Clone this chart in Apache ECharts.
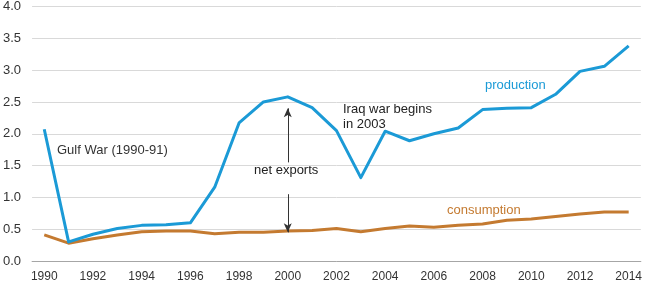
<!DOCTYPE html>
<html>
<head>
<meta charset="utf-8">
<script src="https://cdn.jsdelivr.net/npm/echarts@6/dist/echarts.min.js"></script>
<style>
html, body { margin: 0; padding: 0; background: #fff; }
#chart { width: 645px; height: 297px; }
</style>
</head>
<body>
<div id="chart"></div>
<script>
var years = [];
for (var y = 1990; y <= 2014; y++) years.push(String(y));

var production = [2.07, 0.30, 0.42, 0.51, 0.56, 0.57, 0.60, 1.16, 2.17, 2.50, 2.58, 2.41, 2.05, 1.31,
                  2.04, 1.89, 2.00, 2.09, 2.38, 2.40, 2.41, 2.62, 2.98, 3.06, 3.38];
var consumption = [0.41, 0.28, 0.35, 0.41, 0.46, 0.47, 0.47, 0.43, 0.45, 0.45, 0.47, 0.48, 0.51, 0.46,
                   0.51, 0.55, 0.53, 0.56, 0.58, 0.64, 0.66, 0.70, 0.74, 0.77, 0.77];

var blue = '#1b9ad6';
var orange = '#c47a30';
var font = 'Liberation Sans, Arial, sans-serif';

var chart = echarts.init(document.getElementById('chart'));

option = {
    animation: false,
    grid: { left: 31, right: 4, top: 5, bottom: 36 },
    xAxis: {
        type: 'category',
        data: years,
        boundaryGap: true,
        axisLine: { lineStyle: { color: '#a6a6a6' } },
        axisTick: { interval: 0, length: 5, lineStyle: { color: '#a6a6a6' } },
        axisLabel: { interval: 1, margin: 10, color: '#333', fontSize: 12, fontFamily: font }
    },
    yAxis: {
        type: 'value',
        min: 0,
        max: 4,
        interval: 0.5,
        axisLine: { show: false },
        axisTick: { show: false },
        axisLabel: {
            margin: 11, color: '#333', fontSize: 13, fontFamily: font,
            formatter: function (v) { return v.toFixed(1); }
        },
        splitLine: { lineStyle: { color: '#d9d9d9', width: 1 } }
    },
    series: [
        {
            name: 'production',
            type: 'line',
            data: production,
            symbol: 'none',
            lineStyle: { color: blue, width: 3, join: 'round' },
            z: 3
        },
        {
            name: 'consumption',
            type: 'line',
            data: consumption,
            symbol: 'none',
            lineStyle: { color: orange, width: 3, join: 'round' },
            z: 2,
            markLine: {
                silent: true,
                symbol: ['none', 'arrow'],
                symbolSize: [6, 9],
                label: { show: false },
                lineStyle: { color: '#333', width: 1, type: 'solid' },
                data: [
                    [{ coord: ['2000', 1.55] }, { coord: ['2000', 2.40] }],
                    [{ coord: ['2000', 1.05] }, { coord: ['2000', 0.45] }]
                ]
            }
        }
    ],
    graphic: [
        { type: 'text', left: 57, top: 144, style: { text: 'Gulf War (1990-91)', fill: '#333', font: '13px ' + font } },
        { type: 'text', left: 343, top: 102, style: { text: 'Iraq war begins\nin 2003', fill: '#222', font: '13px ' + font, lineHeight: 15 } },
        { type: 'text', left: 254, top: 164, style: { text: 'net exports', fill: '#222', font: '13px ' + font } },
        { type: 'text', left: 485, top: 79, style: { text: 'production', fill: blue, font: '13px ' + font } },
        { type: 'text', left: 447, top: 204, style: { text: 'consumption', fill: orange, font: '13px ' + font } }
    ]
};
chart.setOption(option, true);
</script>
</body>
</html>
